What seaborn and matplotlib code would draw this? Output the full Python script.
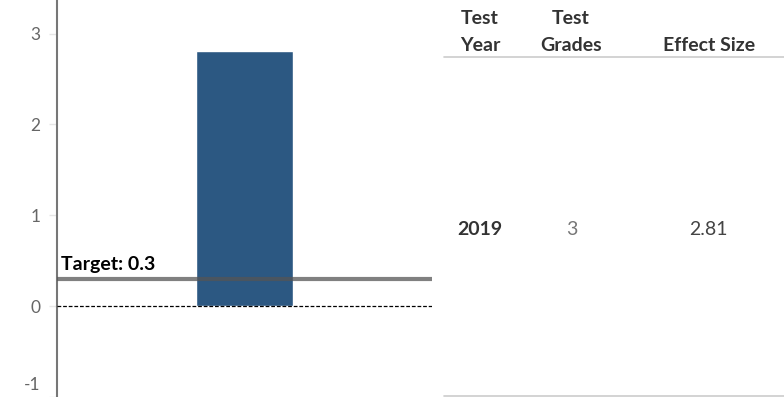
import pandas as pd
import matplotlib.pyplot as plt
import matplotlib.transforms as mtransforms
import seaborn as sns
from matplotlib.lines import Line2D

# data
years = ["2019"]
grades = ["3"]
effect_sizes = [2.81]
target = 0.3
y_ticks = [-1, 0, 1, 2, 3]

sns.set_theme(style="white")
plt.rcParams['font.family'] = ['Lato', 'DejaVu Sans']

df = pd.DataFrame({"year": years, "effect": effect_sizes})

fig = plt.figure(figsize=(7.84, 3.97), dpi=100)
ax = fig.add_axes([57 / 784, 0, 375 / 784, 1])

sns.barplot(data=df, x="year", y="effect", color="#2c5882", width=0.26,
            saturation=1, ax=ax, zorder=2)

ax.set_xlim(-0.5, 0.5)
ax.set_ylim(-1.0, 3.37)
ax.set_yticks(y_ticks)
ax.set_yticklabels([str(t) for t in y_ticks], color="#666666", fontsize=12.5)
ax.tick_params(axis="y", left=True, length=6, color="#e6e6e6", width=1, pad=6)
# bottom label sits a little above its tick, as in the original
lbl = ax.get_yticklabels()[0]
lbl.set_transform(lbl.get_transform() + mtransforms.ScaledTranslation(0, 0.13, fig.dpi_scale_trans))
ax.set_xticks([])
ax.set_xlabel("")
ax.set_ylabel("")
for s in ["top", "right", "bottom"]:
    ax.spines[s].set_visible(False)
ax.spines["left"].set_color("#777777")
ax.spines["left"].set_linewidth(1.5)

# zero line and target line
ax.axhline(0, color="black", linestyle=(0, (3, 1.5)), linewidth=0.9, zorder=3)
ax.axhline(target, color="#555555", alpha=0.75, linewidth=3, zorder=4)
ax.text(-0.49, target + 0.095, f"Target: {target}", fontsize=14, fontweight="bold",
        color="black", ha="left", va="baseline", zorder=5)

# table on the right
hdr_color = "#333333"


def fy(px):
    return 1 - px / 397


for x, txt in [(480, "Test"), (571, "Test")]:
    fig.text(x / 784, fy(24), txt, ha="center", va="baseline", fontsize=14,
             fontweight="bold", color=hdr_color)
for x, txt in [(480, "Year"), (571, "Grades"), (709, "Effect Size")]:
    fig.text(x / 784, fy(51), txt, ha="center", va="baseline", fontsize=14,
             fontweight="bold", color=hdr_color)

fig.add_artist(Line2D([444 / 784, 1], [fy(57)] * 2, color="#cccccc", linewidth=1.2,
                      transform=fig.transFigure))
fig.add_artist(Line2D([444 / 784, 1], [fy(395.5)] * 2, color="#cccccc", linewidth=1.2,
                      transform=fig.transFigure))

row_y = fy(235)
fig.text(480 / 784, row_y, years[0], ha="center", va="baseline", fontsize=14,
         fontweight="bold", color=hdr_color)
fig.text(572 / 784, row_y, grades[0], ha="center", va="baseline", fontsize=14,
         color="#777777")
fig.text(708 / 784, row_y, f"{effect_sizes[0]:.2f}", ha="center", va="baseline", fontsize=14,
         color="#444444")

fig.savefig("out.png", dpi=100)
